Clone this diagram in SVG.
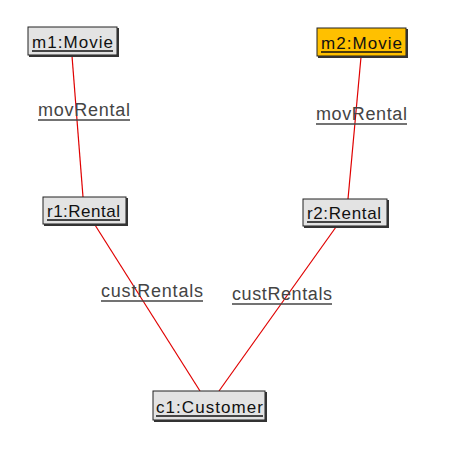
<svg xmlns="http://www.w3.org/2000/svg" width="475" height="461" viewBox="0 0 475 461">
<style>
.box{fill:#e3e3e3;stroke:#222;stroke-width:1}
.hot{fill:#ffc000}
.sh{fill:none;stroke:#333;stroke-width:2}
.nt{font-family:"Liberation Sans",Arial,sans-serif;font-size:17px;fill:#111}
.lb{font-family:"Liberation Sans",Arial,sans-serif;font-size:18px;fill:#444}
.u{stroke:#111;stroke-width:1.3}
.ul{stroke:#444;stroke-width:1.6}
.ln{stroke:#e00000;stroke-width:1.2;fill:none}
</style>
<rect width="475" height="461" fill="#fff"/>
<g id="connectors">
<line class="ln" x1="72" y1="56" x2="83" y2="197"/>
<line class="ln" x1="361" y1="57" x2="348" y2="199"/>
<line class="ln" x1="95" y1="225" x2="200" y2="391"/>
<line class="ln" x1="336" y1="227" x2="219" y2="391"/>
<text class="lb" x="38" y="116" textLength="92" lengthAdjust="spacing">movRental</text>
<line class="ul" x1="38" y1="120" x2="130" y2="120"/>
<text class="lb" x="316" y="120" textLength="91" lengthAdjust="spacing">movRental</text>
<line class="ul" x1="316" y1="124" x2="407" y2="124"/>
<text class="lb" x="101" y="297" textLength="102" lengthAdjust="spacing">custRentals</text>
<line class="ul" x1="101" y1="301" x2="203" y2="301"/>
<text class="lb" x="232" y="300" textLength="100" lengthAdjust="spacing">custRentals</text>
<line class="ul" x1="232" y1="304" x2="332" y2="304" stroke-width="2.5"/>
</g>
<g id="m1">
<rect class="box" x="28" y="27" width="89" height="28"/>
<polyline class="sh" points="118,28 118,56 29,56"/>
<text class="nt" x="32" y="48" textLength="81" lengthAdjust="spacing">m1:Movie</text>
<line class="u" x1="32" y1="51" x2="113" y2="51"/>
</g>
<g id="m2">
<rect class="box hot" x="317" y="28" width="89" height="28"/>
<polyline class="sh" points="407,29 407,57 318,57"/>
<text class="nt" x="321" y="49" textLength="81" lengthAdjust="spacing">m2:Movie</text>
<line class="u" x1="321" y1="52" x2="402" y2="52"/>
</g>
<g id="r1">
<rect class="box" x="43" y="197" width="83" height="27"/>
<polyline class="sh" points="127,198 127,225 44,225"/>
<text class="nt" x="47" y="217" textLength="73" lengthAdjust="spacing">r1:Rental</text>
<line class="u" x1="47" y1="220" x2="120" y2="220"/>
</g>
<g id="r2">
<rect class="box" x="303" y="199" width="84" height="27"/>
<polyline class="sh" points="388,200 388,227 304,227"/>
<text class="nt" x="307" y="219" textLength="74" lengthAdjust="spacing">r2:Rental</text>
<line class="u" x1="307" y1="222" x2="381" y2="222"/>
</g>
<g id="c1">
<rect class="box" x="153" y="391" width="112" height="29"/>
<polyline class="sh" points="266,392 266,421 154,421"/>
<text class="nt" x="156" y="413" textLength="107" lengthAdjust="spacing">c1:Customer</text>
<line class="u" x1="156" y1="416" x2="263" y2="416"/>
</g>
</svg>
